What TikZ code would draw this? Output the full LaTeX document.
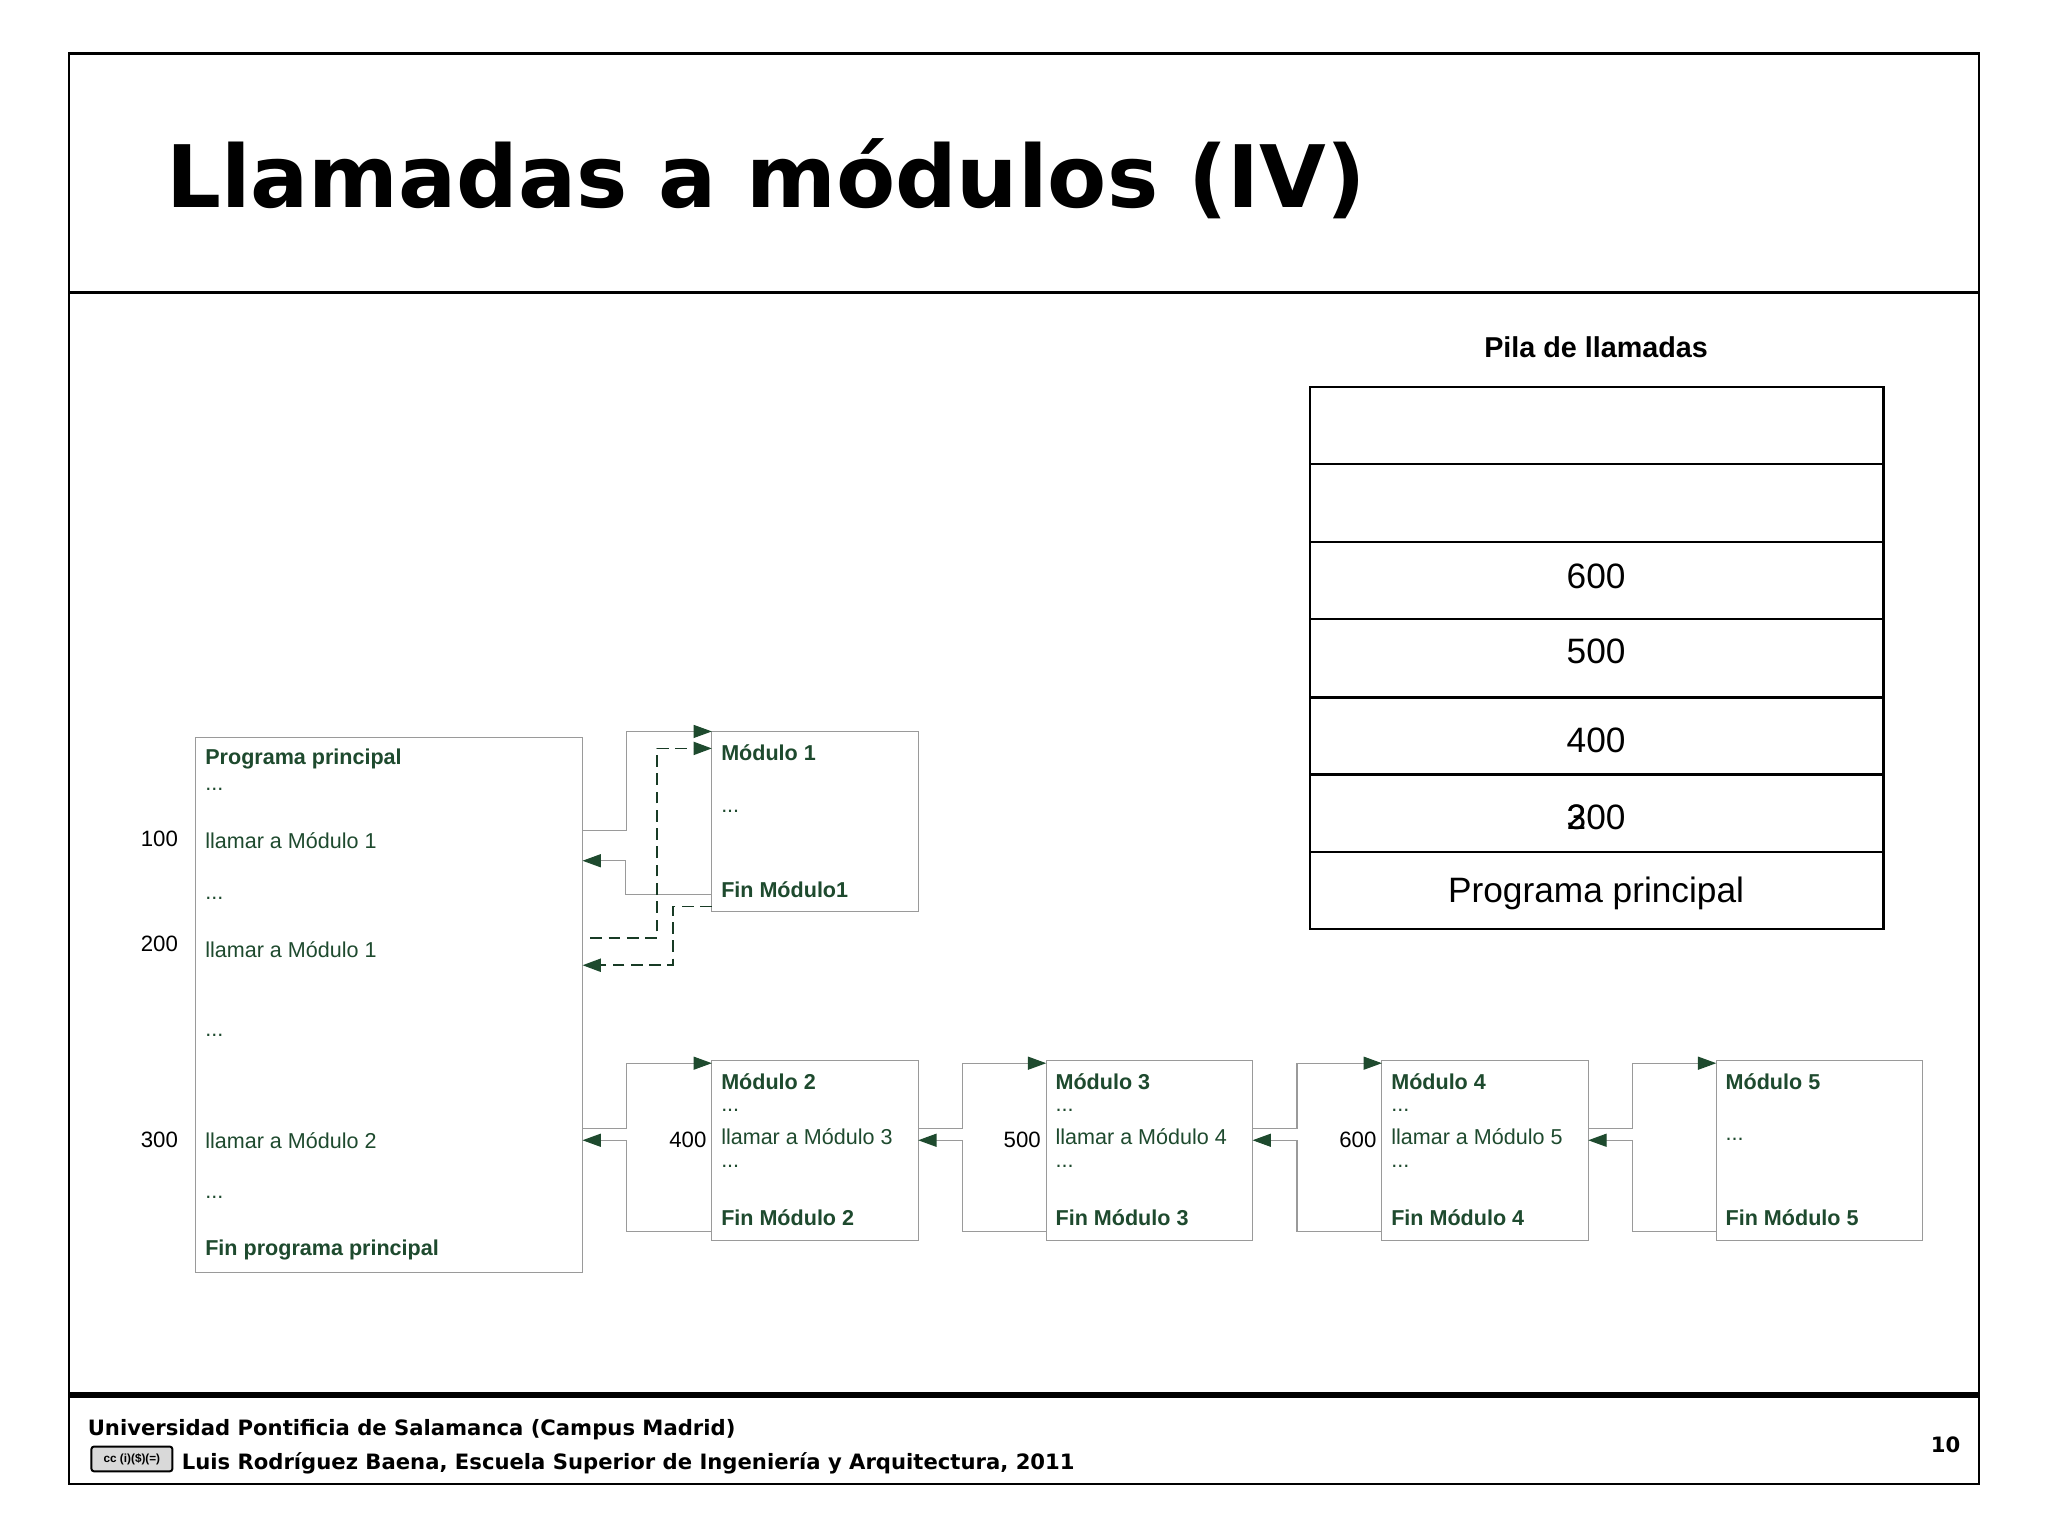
\documentclass[tikz,border=0pt]{standalone}
\usepackage{fontspec}
\setmainfont{Liberation Sans}
\newfontfamily\vfont{DejaVu Sans}
\usetikzlibrary{arrows.meta}
\definecolor{dg}{HTML}{1E4A2E}
\definecolor{bx}{HTML}{9A9A9A}
\tikzset{
  mbox/.style={draw=bx, line width=0.8pt},
  gt/.style={anchor=west, text=dg, font=\fontsize{16.5}{18}\selectfont, inner sep=0pt},
  gb/.style={gt, font=\fontsize{16.5}{18}\selectfont\bfseries},
  num/.style={anchor=center, font=\fontsize{17}{19}\selectfont, inner sep=0pt},
  con/.style={draw=bx, line width=0.8pt, -{Triangle[length=14pt,width=10pt,fill=dg,color=dg]}},
  dcon/.style={draw=dg!80!black, line width=1.4pt, dash pattern=on 9pt off 5pt, -{Triangle[length=14pt,width=10pt,fill=dg,color=dg]}},
  srow/.style={draw, line width=1.6pt},
  stxt/.style={font=\fontsize{27}{30}\selectfont, inner sep=0pt},
}
\begin{document}
\begin{tikzpicture}[x=1pt,y=-1pt]
\useasboundingbox (0,0) rectangle (1568,1178);
\fill[white] (0,0) rectangle (1568,1178);
% frame
\draw[line width=1.8pt] (53,41) rectangle (1515,1136);
\draw[line width=1.8pt] (53,224) -- (1515,224);
\draw[line width=4pt] (53,1068) -- (1515,1068);
\node[anchor=base west, inner sep=0pt, font=\vfont\bfseries\fontsize{66}{76}\selectfont] (title) at (127,159) {Llamadas a módulos (IV)};
% footer
\node[anchor=base west, inner sep=0pt, font=\vfont\bfseries\fontsize{16.2}{20}\selectfont] (f1) at (67,1099) {Universidad Pontificia de Salamanca (Campus Madrid)};
\node[anchor=base west, inner sep=0pt, font=\vfont\bfseries\fontsize{16.2}{20}\selectfont] (f2) at (139,1125) {Luis Rodríguez Baena, Escuela Superior de Ingeniería y Arquitectura, 2011};
\node[anchor=base east, inner sep=0pt, font=\vfont\bfseries\fontsize{16.2}{20}\selectfont] (pg) at (1501,1112) {10};
\node[draw, fill=black!15, line width=1.5pt, rounded corners=2pt, minimum width=62pt, minimum height=19pt, inner sep=0pt, font=\bfseries\fontsize{9}{10}\selectfont, anchor=center] (cc) at (101,1117) {cc\;(i)(\$)(=)};
% stack
\node[font=\bfseries\fontsize{22}{26}\selectfont, inner sep=0pt] (pila) at (1222,266) {Pila de llamadas};
\foreach \a/\b in {296/355,355/415,415/474,474/534,534/593,593/652,652/711}
  \draw[srow] (1003,\a) rectangle (1442,\b);
\node[stxt] (s600) at (1222,441) {600};
\node[stxt] (s500) at (1222,499) {500};
\node[stxt] (s400) at (1222,567) {400};
\node[stxt] (s300) at (1222,626) {300};
\node[stxt, anchor=west] (s2) at (s300.west) {2};
\node[stxt] (spp) at (1222,684) {Programa principal};
% main box
\draw[mbox] (150,565) rectangle (446,974);
\node[gb] (pp) at (157,581) {Programa principal};
\node[gt] at (157,604) {...};
\node[gt] (l1) at (157,644) {llamar a Módulo 1};
\node[gt] at (157,688) {...};
\node[gt] (l2) at (157,727) {llamar a Módulo 1};
\node[gt] at (157,793) {...};
\node[gt] (l3) at (157,873) {llamar a Módulo 2};
\node[gt] at (157,917) {...};
\node[gb] (fpp) at (157,957) {Fin programa principal};
\node[num] (n100) at (122,642) {100};
\node[num] (n200) at (122,723) {200};
\node[num] (n300) at (122,873) {300};
% module 1
\draw[mbox] (545,560) rectangle (703,698);
\node[gb] (m1) at (552,576) {Módulo 1};
\node[gt] at (552,621) {...};
\node[gb] (fm1) at (552,681) {Fin Módulo1};
\coordinate (a1) at (446,636); \coordinate (b1) at (545,560);
\draw[con] (a1) -- (480,636) -- (480,560) -- (b1);
\coordinate (a2) at (545,685); \coordinate (b2) at (446,659);
\draw[con] (a2) -- (479,685) -- (479,659) -- (b2);
\coordinate (a3) at (452,718); \coordinate (b3) at (545,573);
\draw[dcon] (a3) -- (503,718) -- (503,573) -- (b3);
\coordinate (a4) at (545,694); \coordinate (b4) at (446,739);
\draw[dcon] (a4) -- (515,694) -- (515,739) -- (b4);
% modules 2-5
\foreach \i/\x/\n in {2/545/400,3/801/500,4/1058/600}{
  \draw[mbox] (\x,812) rectangle (\x+158,950);
  \node[gb] at (\x+7,828) {Módulo \i};
  \node[gt] at (\x+7,850) {...};
  \pgfmathtruncatemacro\j{\i+1}
  \node[gt] at (\x+7,870) {llamar a Módulo \j};
  \node[gt] at (\x+7,893) {...};
  \node[gb] at (\x+7,932) {Fin Módulo \i};
  \node[num, anchor=east] at (\x-4,873) {\n};
}
\draw[mbox] (1314,812) rectangle (1472,950);
\node[gb] (m5) at (1321,828) {Módulo 5};
\node[gt] at (1321,872) {...};
\node[gb] (fm5) at (1321,932) {Fin Módulo 5};
\foreach \c/\x in {446/545,703/801,959/1058,1216/1314}{
  \draw[con] (\c,864) -- (\c+34,864) -- (\c+34,814) -- (\x,814);
  \draw[con] (\x,943) -- (\c+34,943) -- (\c+34,873) -- (\c,873);
}
\end{tikzpicture}
\end{document}
